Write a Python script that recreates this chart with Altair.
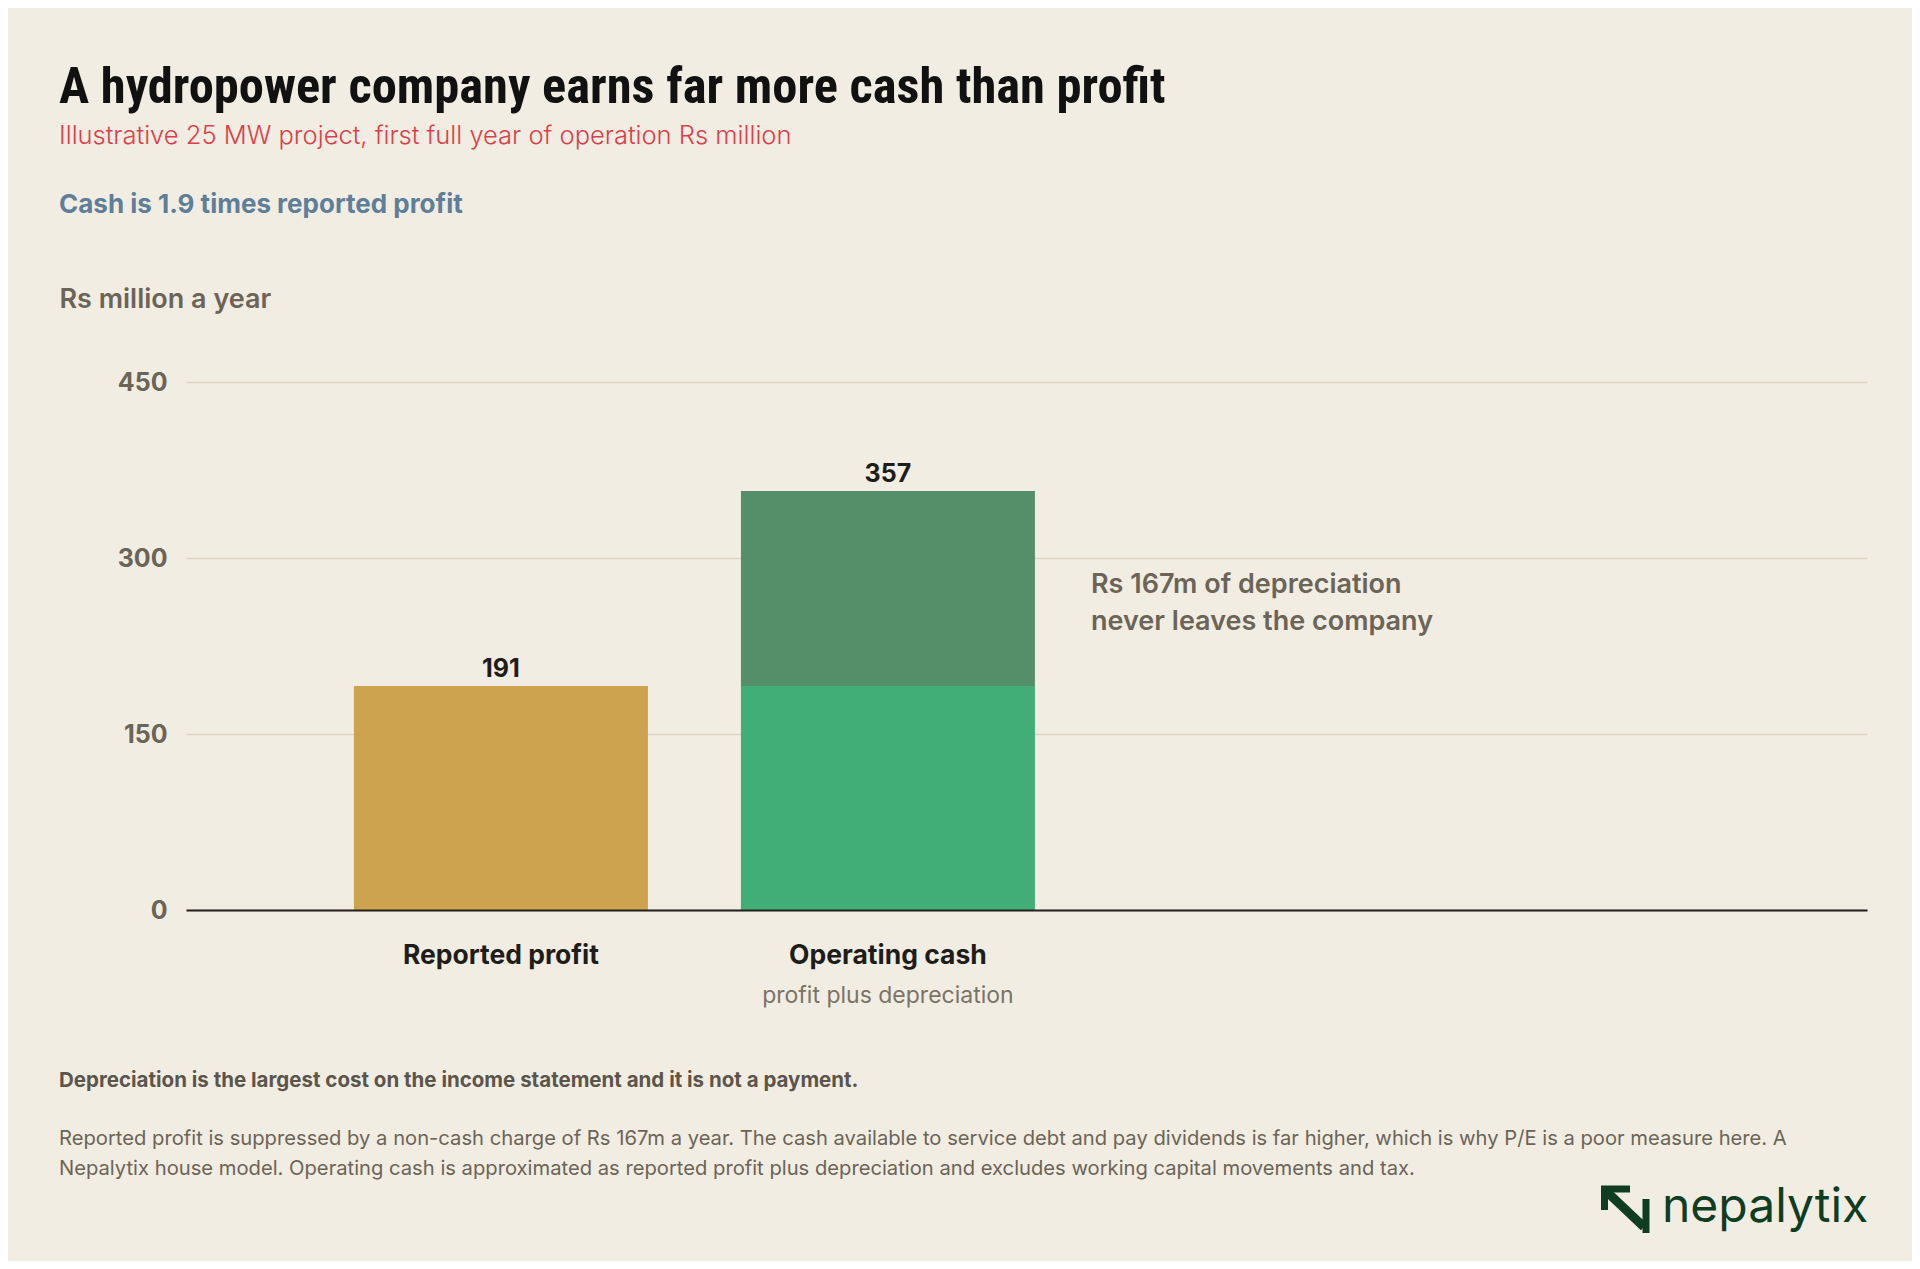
import altair as alt
import pandas as pd

# ---------------- data ----------------
categories = ["Reported profit", "Operating cash"]
spare_slots = ["_slot3", "_slot4"]          # empty slots on the category axis
profit = [191, 191]
depreciation = [0, 166]
totals = [191, 357]
sub_labels = ["", "profit plus depreciation"]
segments = ["Reported profit", "Profit", "Depreciation"]
segment_colors = ["#cda34f", "#41ae78", "#548f6a"]
y_ticks = [0, 150, 300, 450]

title_text = "A hydropower company earns far more cash than profit"
subtitle_text = "Illustrative 25 MW project, first full year of operation Rs million"
kicker_text = "Cash is 1.9 times reported profit"
y_title = "Rs million a year"
annotation_lines = ["Rs 167m of depreciation", "never leaves the company"]
footer_bold = "Depreciation is the largest cost on the income statement and it is not a payment."
footer_lines = [
    "Reported profit is suppressed by a non-cash charge of Rs 167m a year. The cash available to service debt and pay dividends is far higher, which is why P/E is a poor measure here. A",
    "Nepalytix house model. Operating cash is approximated as reported profit plus depreciation and excludes working capital movements and tax.",
]
logo_text = "nepalytix"

# ---------------- style ----------------
BG = "#f2ede3"
BODY = "Inter"
TITLE_FONT = "Roboto Condensed"
GREY = "#6b6457"
W, H = 1681, 528

bars_df = pd.DataFrame({
    "category": [categories[0], categories[1], categories[1]],
    "segment": segments,
    "start": [0, 0, profit[1]],
    "end": [profit[0], profit[1], profit[1] + depreciation[1]],
})
totals_df = pd.DataFrame({"category": categories, "total": totals, "sub": sub_labels})

x_enc = alt.X(
    "category:N",
    scale=alt.Scale(domain=categories + spare_slots, paddingInner=0.2403,
                    paddingOuter=0.292, align=0.743),
    axis=alt.Axis(
        title=None, labelExpr="indexof(datum.label, '_') == 0 ? '' : datum.label",
        labelFont=BODY, labelFontSize=26.5, labelFontWeight="bold", labelColor="#1f1d1a",
        labelAngle=0, labelBaseline="middle", labelPadding=45, labelLimit=500,
        ticks=False, tickSize=0,
        domain=True, domainColor="#23211d", domainWidth=2, grid=False, zindex=2,
    ),
)

bars = alt.Chart(bars_df).mark_bar().encode(
    x=x_enc,
    y=alt.Y(
        "start:Q",
        scale=alt.Scale(domain=[0, 450], nice=False),
        axis=alt.Axis(
            values=y_ticks, grid=True, gridColor="#ddd6c7", gridWidth=1.5,
            domain=False, ticks=False, labelPadding=19, labelFont=BODY,
            labelFontSize=25, labelFontWeight="bold", labelColor=GREY,
            title=y_title, titleAngle=0, titleAlign="left", titleBaseline="alphabetic",
            titleX=-127, titleY=-75, titleFont=BODY, titleFontSize=27,
            titleFontWeight=600, titleColor=GREY,
        ),
    ),
    y2="end:Q",
    color=alt.Color("segment:N", scale=alt.Scale(domain=segments, range=segment_colors), legend=None),
)

value_labels = alt.Chart(totals_df).mark_text(
    dy=-17, font=BODY, fontSize=25, fontWeight="bold", color="#1f1d1a", baseline="middle"
).encode(x=alt.X("category:N"), y=alt.Y("total:Q"), text=alt.Text("total:Q"))

sub_axis_labels = alt.Chart(totals_df).mark_text(
    font=BODY, fontSize=23, color="#7a7367", baseline="middle"
).encode(x=alt.X("category:N"), y=alt.value(614), text="sub:N")


def label(text, x, y, size, color, weight="normal", font=BODY, align="left", baseline="alphabetic"):
    return alt.Chart(pd.DataFrame({"t": [text]})).mark_text(
        align=align, baseline=baseline, font=font, fontSize=size,
        fontWeight=weight, color=color,
    ).encode(x=alt.value(x), y=alt.value(y), text="t:N")


texts = [
    label(title_text, -127, -279, 50.5, "#111111", "bold", TITLE_FONT),
    label(subtitle_text, -127, -238, 25.5, "#dc3f48", 300),
    label(kicker_text, -127, -169, 26, "#5f7e99", "bold"),
    label(annotation_lines[0], 905, 203, 27, GREY, 600, baseline="middle"),
    label(annotation_lines[1], 905, 240, 27, GREY, 600, baseline="middle"),
    label(footer_bold, -127, 699, 20.5, "#5b554b", "bold", baseline="middle"),
    label(footer_lines[0], -127, 757, 20.2, GREY, baseline="middle"),
    label(footer_lines[1], -127, 787, 20.2, GREY, baseline="middle"),
    label(logo_text, 1476, 840, 48, "#0f3d22", 400, "Inter"),
]

# logo mark (decorative strokes)
LOGO = "#0f3d22"
def stroke(x1, y1, x2, y2, w):
    return alt.Chart(pd.DataFrame({"k": [0]})).mark_rule(
        color=LOGO, strokeWidth=w, strokeCap="butt"
    ).encode(x=alt.value(x1), y=alt.value(y1), x2=alt.value(x2), y2=alt.value(y2))

logo = [
    stroke(1415, 807, 1444, 807, 7),
    stroke(1418.5, 804, 1418.5, 828, 7),
    stroke(1420, 809, 1458, 845, 9),
    stroke(1460, 817, 1460, 851, 7),
]

chart = alt.layer(bars, value_labels, sub_axis_labels, *texts, *logo).properties(
    width=W, height=H, background=BG,
    padding={"left": 178, "top": 374, "right": 45, "bottom": 351},
    autosize=alt.AutoSizeParams(type="none"),
).configure_view(stroke=None)

chart.save("out.html", embed_options={"renderer": "svg", "actions": False})
